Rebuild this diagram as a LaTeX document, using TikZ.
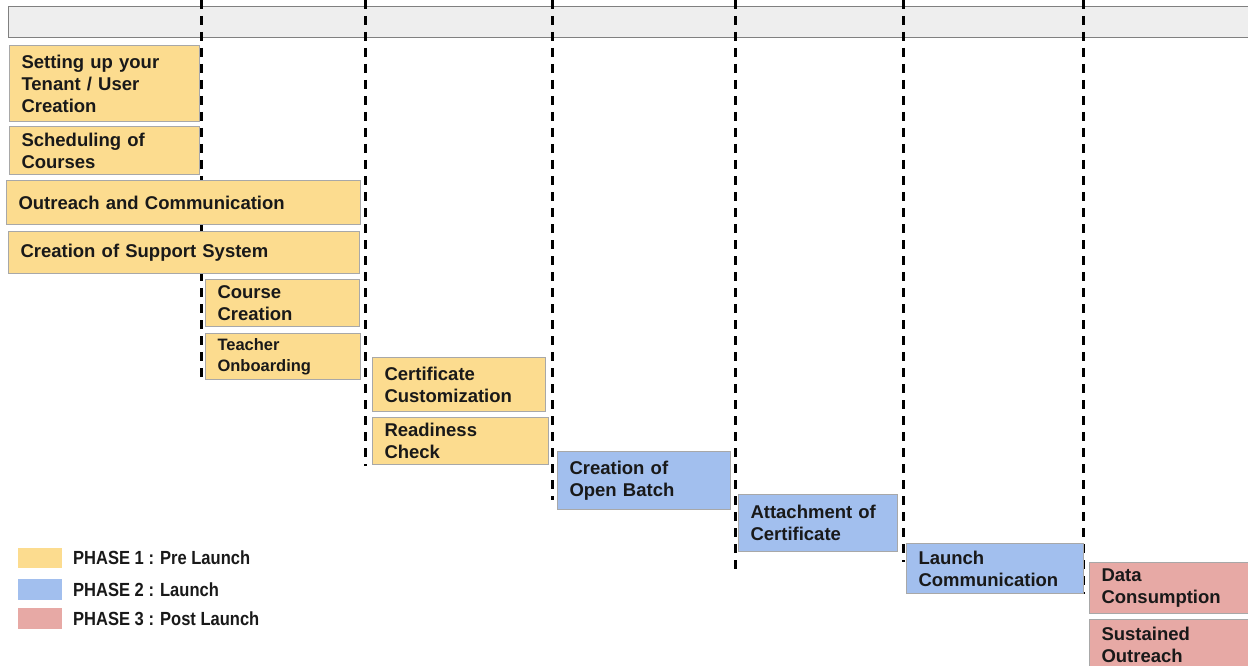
\documentclass[tikz,border=0pt]{standalone}
\usepackage{fontspec}
\setmainfont{Liberation Sans}
\newfontfamily\narrowfont[FakeStretch=0.87]{Liberation Sans Bold}
\usetikzlibrary{positioning}
\definecolor{prelaunch}{HTML}{FCDC8F}
\definecolor{launch}{HTML}{A2BFEE}
\definecolor{postlaunch}{HTML}{E7A9A5}
\definecolor{barfill}{HTML}{EEEEEE}
\definecolor{edgegray}{HTML}{A8A8A8}
\begin{document}
\begin{tikzpicture}[x=1pt, y=-1pt,
    task/.style={draw=edgegray, line width=1pt, anchor=north west, align=left,
        inner xsep=12pt, inner ysep=0pt, text=black!90,
        font=\bfseries\fontsize{18.5}{22}\selectfont},
    phaseone/.style={task, fill=prelaunch},
    phasetwo/.style={task, fill=launch},
    phasethree/.style={task, fill=postlaunch},
    milestone/.style={line width=3pt, dash pattern=on 9pt off 7pt},
    legend/.style={anchor=west, inner sep=0pt, text=black!90,
        font=\narrowfont\fontsize{19}{22}\selectfont}]
    \useasboundingbox (0,0) rectangle (1248,666);
    % header bar
    \draw[fill=barfill, draw=gray, line width=1pt] (8,7) rectangle (1260,38);
    % milestone lines
    \foreach \x/\yend in {201/380, 365/466, 552/500, 735/572, 903/562, 1083/594}
        \draw[milestone] (\x,0) -- (\x,\yend);
    % phase 1
    \node[phaseone, text width=166pt, minimum height=76pt] (tenant) at (9,45) {Setting up your\\Tenant / User\\Creation};
    \node[phaseone, text width=166pt, minimum height=48pt] (schedule) at (9,126) {Scheduling of\\Courses};
    \node[phaseone, text width=330pt, minimum height=44pt] (outreach) at (6,180) {Outreach and Communication};
    \node[phaseone, text width=327pt, minimum height=42pt] (support) at (8,231) {Creation of Support System};
    \node[phaseone, text width=130pt, minimum height=47pt] (course) at (205,279) {Course\\Creation};
    \node[phaseone, text width=131pt, minimum height=46pt, font=\bfseries\fontsize{16.5}{21}\selectfont] (teacher) at (205,333) {Teacher\\Onboarding};
    \node[phaseone, text width=149pt, minimum height=54pt] (certificate) at (372,357) {Certificate\\Customization};
    \node[phaseone, text width=152pt, minimum height=47pt] (readiness) at (372,417) {Readiness\\Check};
    % phase 2
    \node[phasetwo, text width=149pt, minimum height=58pt] (batch) at (557,451) {Creation of\\Open Batch};
    \node[phasetwo, text width=135pt, minimum height=57pt] (attach) at (738,494) {Attachment of\\Certificate};
    \node[phasetwo, text width=153pt, minimum height=50pt] (launchcomm) at (906,543) {Launch\\Communication};
    % phase 3
    \node[phasethree, text width=150pt, minimum height=51pt] (data) at (1089,562) {Data\\Consumption};
    \node[phasethree, text width=150pt, minimum height=50pt] (sustained) at (1089,619) {Sustained\\Outreach};
    % legend
    \fill[prelaunch] (18,548) rectangle (62,568);
    \fill[launch] (18,579) rectangle (62,600);
    \fill[postlaunch] (18,608) rectangle (62,629);
    \node[legend] (keyone) at (73,558) {PHASE 1 : Pre Launch};
    \node[legend] (keytwo) at (73,590) {PHASE 2 : Launch};
    \node[legend] (keythree) at (73,619) {PHASE 3 : Post Launch};
\end{tikzpicture}
\end{document}
